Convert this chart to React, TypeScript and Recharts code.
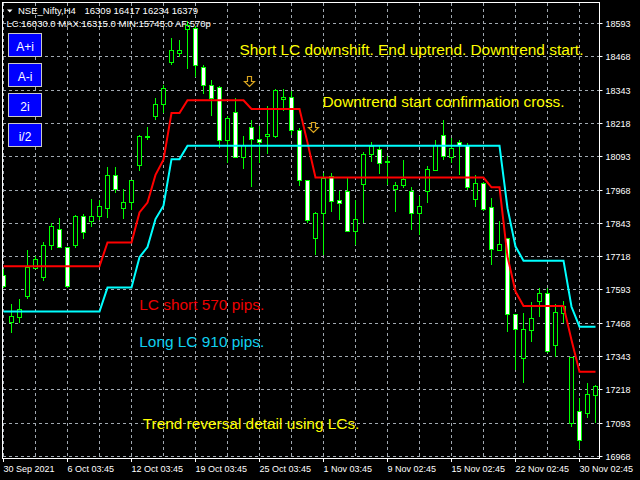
import { Bar, CartesianGrid, ComposedChart, Line, Scatter, XAxis, YAxis } from "recharts";

// H4 bars, 30 Sep 2021 .. 30 Nov 2021 (two bars a day)
const dateLabels = [
  "30 Sep 2021",
  "6 Oct 03:45",
  "12 Oct 03:45",
  "19 Oct 03:45",
  "25 Oct 03:45",
  "1 Nov 03:45",
  "9 Nov 02:45",
  "15 Nov 02:45",
  "22 Nov 02:45",
  "30 Nov 02:45",
];

const priceTicks = [
  16968, 17093, 17218, 17343, 17468, 17593, 17718, 17843, 17968, 18093, 18218,
  18343, 18468, 18593,
];

const opens = [
  17650, 17474, 17493, 17572, 17675, 17643, 17760, 17821, 17754, 17762, 17871,
  17850, 17869, 17900, 18025, 17900, 17923, 18063, 18168, 18244, 18291, 18448,
  18483, 18573, 18576, 18429, 18361, 18353, 18154, 18261, 18092, 18204, 18159,
  18169, 18169, 18310, 18317, 18194, 18007, 17788, 17881, 18019, 17929, 17965,
  17816, 17990, 18104, 18122, 18075, 17972, 17987, 17966, 17881, 17965, 18042,
  18176, 18092, 18148, 18138, 17934, 17994, 17904, 17743, 17788, 17502, 17337,
  17443, 17553, 17581, 17386, 17508, 17094, 17140, 17130, 17198,
];
const highs = [
  17670, 17541, 17559, 17744, 17722, 17774, 17846, 17863, 17756, 17875, 17879,
  17935, 17931, 18054, 18054, 17972, 18006, 18175, 18206, 18313, 18364, 18538,
  18530, 18604, 18582, 18438, 18382, 18360, 18244, 18313, 18169, 18229, 18207,
  18282, 18347, 18347, 18338, 18201, 18007, 17887, 18032, 18032, 17963, 18013,
  17931, 18109, 18148, 18132, 18097, 18000, 18082, 17981, 17944, 18059, 18157,
  18229, 18164, 18157, 18144, 18025, 18000, 17938, 17850, 17789, 17503, 17506,
  17546, 17600, 17600, 17540, 17553, 17341, 17186, 17245, 17235,
];
const lows = [
  17600, 17432, 17470, 17558, 17671, 17628, 17743, 17750, 17601, 17752, 17785,
  17829, 17856, 17863, 17957, 17859, 17894, 18038, 18157, 18232, 18257, 18438,
  18468, 18423, 18394, 18329, 18244, 18127, 18069, 18088, 18047, 17981, 18069,
  18104, 18163, 18263, 18176, 17984, 17846, 17725, 17725, 17887, 17856, 17812,
  17762, 17846, 18072, 18029, 17988, 17887, 17975, 17819, 17800, 17919, 18038,
  18082, 18070, 18025, 17969, 17906, 17891, 17687, 17741, 17437, 17293, 17245,
  17396, 17491, 17358, 17343, 17468, 17077, 16995, 17111, 17094,
];
const closes = [
  17606, 17495, 17521, 17680, 17710, 17761, 17834, 17756, 17606, 17871, 17812,
  17871, 17909, 18025, 17972, 17923, 18005, 18169, 18172, 18291, 18351, 18492,
  18492, 18588, 18438, 18364, 18314, 18157, 18238, 18092, 18138, 18159, 18148,
  18178, 18345, 18317, 18194, 18007, 17854, 17881, 18013, 17925, 17919, 17816,
  17859, 18104, 18132, 18069, 18078, 17987, 18009, 17881, 17909, 18047, 18138,
  18097, 18126, 18138, 17979, 17994, 17896, 17746, 17766, 17503, 17446, 17446,
  17487, 17583, 17365, 17509, 17531, 17340, 17029, 17202, 17231,
];

// LC short (red) and LC long (cyan) levels per bar
const lcShort = [
  17682, 17682, 17682, 17682, 17682, 17682, 17682, 17682, 17682, 17682, 17682,
  17682, 17682, 17771, 17771, 17771, 17771, 17884, 17921, 18025, 18082, 18257,
  18257, 18305, 18305, 18305, 18305, 18305, 18305, 18305, 18305, 18272, 18272,
  18272, 18272, 18272, 18272, 18272, 18146, 18015, 18015, 18015, 18015, 18015,
  18015, 18015, 18015, 18015, 18015, 18015, 18015, 18015, 18015, 18015, 18015,
  18015, 18015, 18015, 18015, 18015, 18015, 17978, 17978, 17718, 17587, 17533,
  17533, 17533, 17533, 17533, 17533, 17405, 17286, 17286, 17286,
];
const lcLong = [
  17512, 17512, 17512, 17512, 17512, 17512, 17512, 17512, 17512, 17512, 17512,
  17512, 17512, 17602, 17602, 17602, 17602, 17716, 17754, 17859, 17909, 18084,
  18084, 18134, 18134, 18134, 18134, 18134, 18134, 18134, 18134, 18134, 18134,
  18134, 18134, 18134, 18134, 18134, 18134, 18134, 18134, 18134, 18134, 18134,
  18134, 18134, 18134, 18134, 18134, 18134, 18134, 18134, 18134, 18134, 18134,
  18134, 18134, 18134, 18134, 18134, 18134, 18134, 18134, 17900, 17756, 17703,
  17703, 17703, 17703, 17703, 17703, 17530, 17455, 17455, 17455,
];

// signal arrows (bar index, price)
const signalBars = [31, 39];
const signalPrices = [18378, 18203];

const buttonLabels = ["A+i", "A-i", "2i", "i/2"];

const data = opens.map((open, i) => ({
  i,
  open,
  high: highs[i],
  low: lows[i],
  close: closes[i],
  range: [lows[i], highs[i]],
  short: lcShort[i],
  long: lcLong[i],
}));
const signals = signalBars.map((i, k) => ({ i, p: signalPrices[k] }));
const gridTicks = Array.from({ length: 19 }, (_, k) => k * 4);

const FONT = "'Liberation Sans', Arial, sans-serif";

function Candle(props: any) {
  const { x, y, width, height, payload } = props;
  const { open, close, high, low } = payload;
  const k = height / (high - low);
  const py = (v: number) => y + (high - v) * k;
  const cx = Math.floor(x + width / 2) + 0.5;
  const top = Math.round(py(Math.max(open, close))) + 0.5;
  const bottom = Math.round(py(Math.min(open, close))) + 0.5;
  const bull = close >= open;
  return (
    <g shapeRendering="crispEdges">
      <line x1={cx} x2={cx} y1={py(high)} y2={py(low)} stroke="#00ff00" />
      <rect
        x={cx - 2}
        y={top}
        width={4}
        height={Math.max(bottom - top, 0)}
        fill={bull ? "#000" : "#fff"}
        stroke="#00ff00"
      />
    </g>
  );
}

function Arrow(props: any) {
  const cx = Math.round(props.cx) - 1.5;
  const cy = Math.round(props.cy) + 0.5;
  const pts = [
    [-2, -5],
    [2, -5],
    [2, 0],
    [5, 0],
    [0, 5],
    [-5, 0],
    [-2, 0],
  ]
    .map(([dx, dy]) => `${cx + dx},${cy + dy}`)
    .join(" ");
  return <polygon points={pts} fill="none" stroke="#daa520" strokeWidth={1.2} />;
}

function DateTick({ x, y, payload }: any) {
  const v = payload.value;
  if (v % 8 !== 0) return <g />;
  const px = Math.floor(x) + 0.5;
  return (
    <g>
      <line x1={px} x2={px} y1={y} y2={y + 3.5} stroke="#fff" />
      <text x={px} y={y + 13} fill="#fff" fontSize={9} fontFamily={FONT}>
        {dateLabels[v / 8]}
      </text>
    </g>
  );
}

function PriceTick({ x, y, payload }: any) {
  const py = Math.floor(y) + 0.5;
  return (
    <g>
      <line x1={x} x2={x + 3} y1={py} y2={py} stroke="#fff" />
      <text x={x + 6} y={py + 3.3} fill="#fff" fontSize={9} fontFamily={FONT}>
        {payload.value}
      </text>
    </g>
  );
}

function Overlay() {
  const note = { fontFamily: FONT, fontSize: 15.4 };
  return (
    <svg
      width={640}
      height={480}
      style={{ position: "absolute", left: 0, top: 0, pointerEvents: "none" }}
    >
      <rect x={2.5} y={2.5} width={597} height={456} fill="none" stroke="#fff" />
      <polygon points="7,9.5 12.5,9.5 9.75,12.5" fill="#fff" />
      <text x={18} y={14} fill="#fff" fontSize={9.5} fontFamily={FONT}>
        NSE_Nifty,H4
      </text>
      <text x={84.5} y={14} fill="#fff" fontSize={9.5} fontFamily={FONT}>
        16309 16417 16234 16379
      </text>
      <text x={6.5} y={27.3} fill="#fff" fontSize={9.5} fontFamily={FONT}>
        LC:16030.0 MAX:16315.0 MIN:15745.0 AF:570p
      </text>
      {buttonLabels.map((b, k) => (
        <g key={b}>
          <rect
            x={8.5}
            y={33.5 + k * 30}
            width={33}
            height={23}
            fill="#0000ff"
            stroke="#c8c8c8"
          />
          <text
            x={25}
            y={50.5 + k * 30}
            fill="#fff"
            fontSize={12}
            textAnchor="middle"
            fontFamily={FONT}
          >
            {b}
          </text>
        </g>
      ))}
      <text x={239.5} y={55} fill="#ffff00" {...note}>
        Short LC downshift. End uptrend. Downtrend start.
      </text>
      <text x={322.5} y={106.7} fill="#ffff00" {...note}>
        Downtrend start confirmation cross.
      </text>
      <text x={139.3} y={310} fill="#ee0000" {...note}>
        LC short 570 pips.
      </text>
      <text x={139.3} y={346.7} fill="#10d0f0" {...note}>
        Long LC 910 pips.
      </text>
      <text x={142.7} y={429} fill="#ffff00" {...note}>
        Trend reversal detail using LCs.
      </text>
    </svg>
  );
}

export default function App() {
  return (
    <div
      style={{
        position: "fixed",
        left: 0,
        top: 0,
        width: 640,
        height: 480,
        background: "#000",
        overflow: "hidden",
      }}
    >
      <ComposedChart
        width={640}
        height={480}
        data={data}
        margin={{ top: 2.5, right: 0, bottom: 0, left: 2.5 }}
      >
        <CartesianGrid
          stroke="#a0a8b0"
          strokeDasharray="3 3"
          shapeRendering="crispEdges"
        />
        <XAxis
          dataKey="i"
          type="number"
          domain={[-0.125, 74.5]}
          ticks={gridTicks}
          interval={0}
          allowDataOverflow
          height={21.5}
          axisLine={false}
          tickLine={false}
          tickSize={0}
          tickMargin={0}
          tick={<DateTick />}
        />
        <YAxis
          orientation="right"
          type="number"
          domain={[16960.5, 18671.8]}
          ticks={priceTicks}
          interval={0}
          allowDataOverflow
          width={40.5}
          axisLine={false}
          tickLine={false}
          tickSize={0}
          tickMargin={0}
          tick={<PriceTick />}
        />
        <Bar
          dataKey="range"
          barSize={5}
          shape={Candle}
          isAnimationActive={false}
        />
        <Line
          dataKey="short"
          type="linear"
          stroke="#ff0000"
          strokeWidth={2}
          dot={false}
          isAnimationActive={false}
        />
        <Line
          dataKey="long"
          type="linear"
          stroke="#00ffff"
          strokeWidth={2}
          dot={false}
          isAnimationActive={false}
        />
        <Scatter
          data={signals}
          dataKey="p"
          shape={Arrow}
          isAnimationActive={false}
        />
      </ComposedChart>
      <Overlay />
    </div>
  );
}
